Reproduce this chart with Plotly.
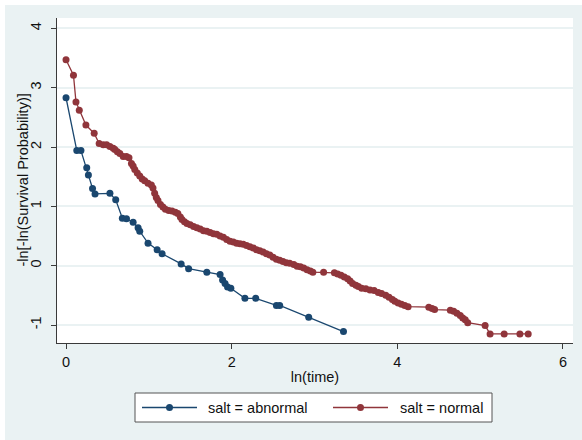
import plotly.graph_objects as go

# ln(time) and -ln[-ln(S)] estimates by salt group
abn_x = [0.00, 0.13, 0.18, 0.25, 0.27, 0.32, 0.35, 0.53, 0.60, 0.68, 0.73, 0.81,
         0.87, 0.89, 0.99, 1.10, 1.16, 1.39, 1.48, 1.70, 1.86, 1.89, 1.92, 1.95,
         1.99, 2.16, 2.29, 2.54, 2.58, 2.93, 3.35]
abn_y = [2.83, 1.94, 1.94, 1.65, 1.53, 1.30, 1.21, 1.22, 1.11, 0.80, 0.79, 0.73,
         0.64, 0.58, 0.38, 0.27, 0.20, 0.03, -0.05, -0.11, -0.15, -0.24, -0.30, -0.36,
         -0.38, -0.55, -0.55, -0.67, -0.67, -0.87, -1.11]

nor_x = [0.00, 0.09, 0.12, 0.16, 0.24, 0.34, 0.40, 0.45, 0.49, 0.53, 0.57, 0.59,
         0.62, 0.65, 0.69, 0.73, 0.76, 0.79, 0.81, 0.83, 0.86, 0.89, 0.92, 0.95,
         0.99, 1.03, 1.05, 1.07, 1.09, 1.11, 1.14, 1.17, 1.20, 1.24, 1.28, 1.32,
         1.35, 1.38, 1.40, 1.43, 1.46, 1.50, 1.54, 1.58, 1.62, 1.66, 1.70, 1.74,
         1.78, 1.82, 1.86, 1.90, 1.94, 1.98, 2.02, 2.06, 2.10, 2.14, 2.18, 2.22,
         2.26, 2.30, 2.34, 2.38, 2.42, 2.46, 2.50, 2.54, 2.58, 2.62, 2.66, 2.70,
         2.75, 2.79, 2.83, 2.87, 2.91, 2.95, 2.98, 3.11, 3.24, 3.28, 3.32, 3.36,
         3.40, 3.43, 3.46, 3.50, 3.53, 3.57, 3.62, 3.67, 3.72, 3.77, 3.81, 3.86,
         3.90, 3.94, 3.97, 4.01, 4.05, 4.09, 4.13, 4.38, 4.42, 4.45, 4.64, 4.68,
         4.72, 4.76, 4.79, 4.82, 4.85, 5.06, 5.12, 5.29, 5.48, 5.58]
nor_y = [3.47, 3.21, 2.76, 2.62, 2.37, 2.23, 2.06, 2.04, 2.04, 2.01, 1.98, 1.96,
         1.92, 1.89, 1.84, 1.84, 1.82, 1.72, 1.68, 1.62, 1.56, 1.51, 1.46, 1.43,
         1.39, 1.36, 1.31, 1.22, 1.15, 1.10, 1.03, 0.99, 0.95, 0.93, 0.92, 0.90,
         0.88, 0.82, 0.78, 0.74, 0.71, 0.69, 0.66, 0.64, 0.62, 0.59, 0.58, 0.56,
         0.54, 0.53, 0.50, 0.48, 0.44, 0.41, 0.40, 0.38, 0.37, 0.36, 0.34, 0.32,
         0.30, 0.27, 0.25, 0.23, 0.20, 0.18, 0.14, 0.11, 0.09, 0.07, 0.05, 0.04,
         0.02, -0.01, -0.02, -0.04, -0.07, -0.09, -0.11, -0.11, -0.12, -0.14, -0.16, -0.19,
         -0.22, -0.26, -0.30, -0.33, -0.35, -0.38, -0.39, -0.41, -0.42, -0.45, -0.47, -0.50,
         -0.53, -0.57, -0.60, -0.63, -0.65, -0.67, -0.69, -0.70, -0.72, -0.74, -0.75, -0.77,
         -0.80, -0.84, -0.88, -0.91, -0.96, -1.01, -1.15, -1.15, -1.15, -1.15]

series_names = ["salt = abnormal", "salt = normal"]
x_ticks = [0, 2, 4, 6]
y_ticks = [-1, 0, 1, 2, 3, 4]
x_title = "ln(time)"
y_title = "-ln[-ln(Survival Probability)]"

NAVY = "#1A476F"
MAROON = "#90353B"
BG = "#EAF2F3"
AXIS = "#3a3a3a"
FONT = "Liberation Sans, Arial, sans-serif"
FS = 14.5

fig = go.Figure()
for xs, ys, name, col in [(abn_x, abn_y, series_names[0], NAVY),
                          (nor_x, nor_y, series_names[1], MAROON)]:
    fig.add_trace(go.Scatter(x=xs, y=ys, mode="lines+markers", name=name,
                             line=dict(color=col, width=1.3),
                             marker=dict(color=col, size=7),
                             showlegend=False))

W, H = 582, 440
L, R, T, B = 57, 9, 18, 97
pw, ph = W - L - R, H - T - B


def px_x(p):
    return (p - L) / pw


def px_y(p):
    return (H - B - p) / ph


shapes = [
    # outer graph region
    dict(type="rect", xref="paper", yref="paper", layer="below",
         x0=px_x(5), x1=px_x(W + 5), y0=px_y(H + 5), y1=px_y(5),
         fillcolor=BG, line=dict(width=0)),
    # plot region
    dict(type="rect", xref="paper", yref="paper", layer="below",
         x0=0, x1=1, y0=0, y1=1, fillcolor="white", line=dict(width=0)),
    # legend frame
    dict(type="rect", xref="paper", yref="paper",
         x0=px_x(135), x1=px_x(492), y0=px_y(422), y1=px_y(393),
         fillcolor="white", line=dict(color="#555555", width=1)),
]

# rotated y-axis title
annotations = [dict(text=y_title, xref="paper", yref="paper",
                    x=px_x(22), y=0.5, xanchor="center", yanchor="middle",
                    textangle=-90, showarrow=False,
                    font=dict(size=FS, color="#111111"))]

# legend keys: line with a centred marker, then the label
key_y = 407.5
for (lx0, lx1, tx), name, col in zip([(142, 197, 206), (333, 388, 398)],
                                     series_names, [NAVY, MAROON]):
    shapes.append(dict(type="line", xref="paper", yref="paper",
                       x0=px_x(lx0), x1=px_x(lx1), y0=px_y(key_y), y1=px_y(key_y),
                       line=dict(color=col, width=1.3)))
    cx = (lx0 + lx1) / 2
    shapes.append(dict(type="circle", xref="paper", yref="paper",
                       x0=px_x(cx - 3.5), x1=px_x(cx + 3.5),
                       y0=px_y(key_y + 3.5), y1=px_y(key_y - 3.5),
                       fillcolor=col, line=dict(color=col, width=0)))
    annotations.append(dict(text=name, xref="paper", yref="paper",
                            x=px_x(tx), y=px_y(key_y), xanchor="left", yanchor="middle",
                            showarrow=False, font=dict(size=FS, color="#111111")))

fig.update_layout(
    width=W, height=H,
    margin=dict(l=L, r=R, t=T, b=B, pad=0),
    paper_bgcolor="white",
    plot_bgcolor="white",
    font=dict(family=FONT, size=FS, color="#111111"),
    showlegend=False,
    shapes=shapes,
    annotations=annotations,
)

fig.update_xaxes(
    range=[-0.109, 6.121], tickvals=x_ticks, ticktext=[str(v) for v in x_ticks],
    showgrid=False, zeroline=False,
    showline=True, linecolor=AXIS, linewidth=1.2,
    ticks="outside", ticklen=5, tickwidth=1.2, tickcolor=AXIS,
    tickfont=dict(size=FS), ticklabelstandoff=0,
    title=dict(text=x_title, font=dict(size=FS), standoff=3),
)
fig.update_yaxes(
    range=[-1.303, 4.174], tickvals=y_ticks, ticktext=[str(v) for v in y_ticks],
    tickangle=-90,
    showgrid=True, gridcolor=BG, gridwidth=1.5, zeroline=False,
    showline=True, linecolor=AXIS, linewidth=1.2,
    ticks="outside", ticklen=5, tickwidth=1.2, tickcolor=AXIS,
    tickfont=dict(size=FS), ticklabelstandoff=4,
)

fig.write_html("out.html")
